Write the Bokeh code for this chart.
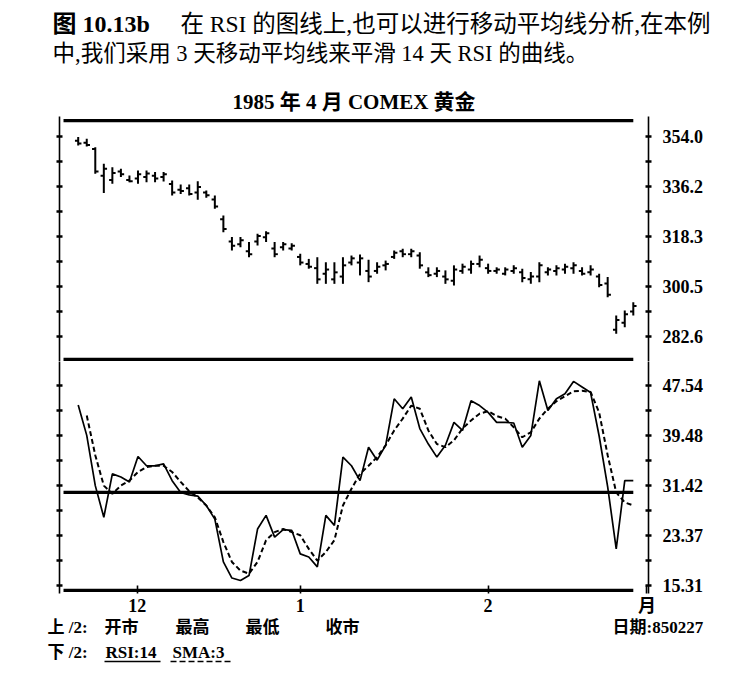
import numpy as np
from bokeh.plotting import figure
from bokeh.layouts import column
from bokeh.models import Range1d, LinearAxis, FixedTicker, Title
from bokeh.embed import file_html
from bokeh.resources import INLINE

# ---------------- data ----------------
price_high = [353.8, 353.2, 350.2, 344.3, 343.0, 342.5, 340.1, 341.9, 341.9, 341.3,
              341.3, 338.3, 336.9, 336.9, 338.0, 334.7, 332.9, 325.8, 318.1, 318.1,
              316.3, 319.3, 320.2, 316.3, 316.3, 315.9, 312.1, 310.3, 310.9, 309.1,
              309.1, 310.9, 311.5, 311.9, 310.0, 309.1, 309.7, 313.3, 313.9, 313.9,
              312.7, 307.3, 307.3, 306.2, 308.0, 308.6, 309.7, 311.5, 308.6, 307.3,
              307.3, 308.0, 306.8, 305.6, 309.1, 307.3, 308.0, 308.6, 309.1, 307.3,
              308.0, 305.0, 303.8, 290.1, 291.9, 294.8]
price_low = [350.8, 350.4, 340.7, 333.8, 337.1, 339.5, 337.7, 337.1, 337.7, 337.7,
             337.9, 332.9, 333.5, 332.9, 331.4, 332.1, 328.2, 319.8, 313.3, 314.5,
             310.9, 315.1, 316.3, 310.9, 313.3, 313.3, 308.0, 306.8, 301.4, 301.4,
             301.4, 301.4, 308.0, 304.4, 302.0, 305.0, 306.2, 310.3, 310.9, 310.9,
             306.8, 303.8, 303.8, 301.4, 300.8, 305.0, 305.0, 307.3, 305.0, 305.0,
             304.4, 305.0, 302.0, 301.4, 302.0, 304.4, 304.4, 305.0, 305.0, 304.4,
             304.4, 300.2, 296.6, 283.6, 285.9, 290.1]
price_open = [352.5, 351.8, 349.5, 340.0, 338.5, 341.5, 338.5, 339.0, 339.5, 340.0,
              339.5, 337.0, 335.0, 335.5, 334.0, 334.0, 331.5, 324.5, 316.5, 315.5,
              313.0, 316.5, 318.0, 314.0, 314.5, 314.0, 311.0, 308.5, 307.0, 305.0,
              303.0, 304.0, 309.0, 309.0, 306.0, 306.0, 308.0, 311.0, 313.0, 312.0,
              311.5, 305.5, 305.0, 304.0, 302.5, 306.0, 306.5, 308.5, 307.0, 306.0,
              305.0, 306.0, 305.5, 303.0, 304.0, 305.5, 306.0, 306.5, 307.0, 306.0,
              305.5, 304.0, 301.5, 285.0, 287.5, 291.5]
price_close = [351.5, 351.0, 341.5, 342.5, 341.0, 340.5, 338.0, 340.5, 340.8, 339.0,
               340.5, 334.0, 334.5, 333.5, 336.0, 333.0, 329.0, 321.0, 315.0, 317.0,
               312.0, 318.5, 319.5, 312.0, 315.5, 315.0, 309.0, 307.5, 303.0, 306.5,
               305.5, 308.0, 310.5, 310.5, 304.0, 307.5, 308.5, 312.5, 312.0, 313.0,
               308.0, 304.5, 306.0, 303.0, 306.5, 307.5, 308.5, 310.0, 306.0, 306.5,
               306.5, 307.0, 303.5, 304.0, 308.0, 306.5, 307.0, 307.5, 308.0, 305.0,
               306.5, 301.0, 297.5, 288.5, 290.5, 293.5]
rsi_14 = [44.4, 39.5, 31.4, 26.3, 33.3, 32.8, 32.0, 36.1, 34.6, 34.6,
          34.9, 32.2, 30.3, 29.9, 29.7, 28.2, 26.0, 19.1, 16.5, 16.1,
          16.9, 24.4, 26.6, 23.1, 24.3, 24.2, 20.4, 19.9, 18.3, 26.6,
          25.0, 36.0, 34.6, 32.2, 37.6, 35.5, 37.9, 45.4, 43.8, 45.7,
          40.6, 38.1, 36.0, 37.9, 41.6, 40.3, 45.1, 44.3, 43.2, 41.6,
          41.6, 41.5, 37.6, 39.5, 48.3, 43.5, 45.4, 46.2, 48.2, 47.3,
          46.4, 39.4, 31.2, 21.2, 32.2, 32.2]
sma_3 = [np.nan, 42.7, 36.3, 31.4, 30.1, 31.4, 32.2, 33.6, 34.4, 34.6,
         34.6, 33.6, 32.0, 30.5, 29.5, 28.2, 26.3, 22.3, 19.1, 17.7,
         17.2, 19.1, 22.6, 23.9, 24.4, 23.9, 23.4, 21.2, 19.3, 20.7,
         22.6, 28.2, 30.9, 33.3, 34.6, 36.0, 37.9, 40.3, 42.2, 44.3,
         43.8, 40.3, 38.1, 37.6, 38.7, 40.6, 41.9, 43.0, 43.4, 42.6,
         42.2, 40.8, 39.2, 40.0, 42.2, 43.8, 45.0, 45.8, 46.6, 46.7,
         46.5, 43.2, 36.3, 30.3, 28.7, 28.2]

price_ticks = [282.6, 300.5, 318.3, 336.2, 354.0]
price_tick_labels = ["282.6", "300.5", "318.3", "336.2", "354.0"]
rsi_ticks = [15.31, 23.37, 31.42, 39.48, 47.54]
rsi_tick_labels = ["15.31", "23.37", "31.42", "39.48", "47.54"]
month_ticks = [6.9, 26.0, 48.0, 66.6]
month_labels = ["12", "1", "2", "月"]
rsi_level = 30.3          # horizontal reference line in the RSI panel
price_top_rule = 359.7    # thick rule at top of price panel
price_sep_rule = 274.4    # thick rule separating the two panels
rsi_bottom_rule = 14.5    # thick rule at bottom of RSI panel

caption_1a = "图 10.13b"
caption_1b = "在 RSI 的图线上,也可以进行移动平均线分析,在本例"
caption_2 = "中,我们采用 3 天移动平均线来平滑 14 天 RSI 的曲线。"
chart_title = "1985 年 4 月 COMEX 黄金"
footer_row1 = ["上 /2:", "开市", "最高", "最低", "收市", "日期:850227"]
footer_row2 = ["下 /2:", "RSI:14", "SMA:3"]
legend_rsi_span = (3.08, 9.64)     # solid underline under "RSI:14"
legend_sma_span = (10.81, 18.07)   # dashed underline under "SMA:3"

# ---------------- layout / style ----------------
SERIF = "'Liberation Serif', 'Noto Sans CJK SC'"
LEFT, FRAME_W, RIGHT = 59, 589, 90
P1_H, P2_H = 245, 232
RULE_X0, RULE_X1 = -1.72, 65.0
TICK_HALF = 0.38
FOOT_X1 = [47, 104, 175, 245, 325, 612]   # page x of footer row 1 items
FOOT_X2 = [47, 105, 172]                  # page x of footer row 2 items

x = np.arange(len(price_high))
xr = Range1d(-2.19, 66.78)


def box_h(size):
    # height Bokeh gives a one-line text box (Liberation Serif metrics)
    return 1.107 * size


def minor_of(ticks):
    step = ticks[1] - ticks[0]
    return [ticks[0] - step / 2] + [t + step / 2 for t in ticks]


def style_vaxis(ax, ticks, labels=None):
    ax.ticker = FixedTicker(ticks=ticks, minor_ticks=minor_of(ticks))
    ax.axis_line_width = 1.6
    ax.axis_line_color = "black"
    ax.major_tick_in = 3
    ax.major_tick_out = 3
    ax.major_tick_line_width = 2.6
    ax.minor_tick_in = 3
    ax.minor_tick_out = 3
    ax.minor_tick_line_width = 2.6
    if labels is None:
        ax.major_label_text_color = None
        ax.major_label_standoff = 0
    else:
        ax.major_label_overrides = dict(zip(ticks, labels))
        ax.major_label_text_font = SERIF
        ax.major_label_text_font_style = "bold"
        ax.major_label_text_font_size = "18px"
        ax.major_label_text_color = "black"
        ax.major_label_standoff = 11


def make_fig(h, yr, xrange=xr, y_axis="right", top=0, bottom=0):
    p = figure(frame_width=FRAME_W, frame_height=h, x_range=xrange, y_range=yr,
               output_backend="svg", toolbar_location=None,
               x_axis_location=None, y_axis_location=y_axis,
               min_border_left=LEFT, min_border_right=RIGHT,
               min_border_top=top, min_border_bottom=bottom)
    p.outline_line_color = None
    p.background_fill_color = "white"
    p.border_fill_color = "white"
    p.grid.visible = False
    return p


def title(text, size, offset=0, standoff=0.0, bold=False, align="left"):
    return Title(text=text, text_font=SERIF, text_font_size=f"{size}px",
                 text_font_style="bold" if bold else "normal", text_color="black",
                 align=align, offset=offset, standoff=standoff)


def flat_title(text, size, offset, bold=False):
    # a title that takes no height, so that several share one text row
    return title(text, size, offset=offset, standoff=-(2 + box_h(size)), bold=bold)


# ---- header figure: the two caption lines ----
p0 = make_fig(22, Range1d(0, 1), xrange=Range1d(0, 1), y_axis=None, bottom=60)
p0.add_layout(flat_title(caption_1b, 23.5, 180 - LEFT), "below")
p0.add_layout(flat_title(caption_1a, 24, 52 - LEFT, bold=True), "below")
p0.add_layout(title(caption_2, 22.5, offset=52 - LEFT, standoff=32.9), "below")

# ---- price panel ----
p1 = make_fig(P1_H, Range1d(273.67, 361.14), top=34)
p1.add_layout(title(chart_title, 21, standoff=6, bold=True, align="center"), "above")
style_vaxis(p1.yaxis[0], price_ticks, price_tick_labels)
lax1 = LinearAxis()
style_vaxis(lax1, price_ticks)
p1.add_layout(lax1, "left")
p1.segment(x0=[RULE_X0, RULE_X0], x1=[RULE_X1, RULE_X1],
           y0=[price_top_rule, price_sep_rule], y1=[price_top_rule, price_sep_rule],
           line_color="black", line_width=3.2)
p1.segment(x0=x, x1=x, y0=price_low, y1=price_high, line_color="black", line_width=2)
p1.segment(x0=x - TICK_HALF, x1=x, y0=price_open, y1=price_open,
           line_color="black", line_width=2)
p1.segment(x0=x, x1=x + TICK_HALF, y0=price_close, y1=price_close,
           line_color="black", line_width=2)

# ---- RSI panel with month axis ----
p2 = make_fig(P2_H, Range1d(14.01, 51.41))
style_vaxis(p2.yaxis[0], rsi_ticks, rsi_tick_labels)
lax2 = LinearAxis()
style_vaxis(lax2, rsi_ticks)
p2.add_layout(lax2, "left")
xax = LinearAxis(ticker=FixedTicker(ticks=month_ticks, minor_ticks=[]))
xax.major_label_overrides = dict(zip(month_ticks, month_labels))
xax.axis_line_color = None
xax.major_tick_in = 8
xax.major_tick_out = 0
xax.major_tick_line_width = 1.6
xax.minor_tick_line_color = None
xax.major_label_standoff = 2
xax.major_label_text_font = SERIF
xax.major_label_text_font_style = "bold"
xax.major_label_text_font_size = "18px"
xax.major_label_text_color = "black"
p2.add_layout(xax, "below")
p2.segment(x0=[RULE_X0, RULE_X0], x1=[RULE_X1, RULE_X1],
           y0=[rsi_level, rsi_bottom_rule], y1=[rsi_level, rsi_bottom_rule],
           line_color="black", line_width=3.2)
p2.line(x, sma_3, line_color="black", line_width=2, line_dash="5 3")
p2.line(x, rsi_14, line_color="black", line_width=1.7)

# ---- legend row 1 (hangs below a thin empty frame) ----
p3 = make_fig(8, Range1d(0, 1), y_axis=None, bottom=15)
for fx, t in zip(FOOT_X1, footer_row1):
    p3.add_layout(flat_title(t, 17, fx - LEFT, bold=True), "below")

# ---- legend row 2 with its line samples (solid = RSI, dashed = SMA) ----
p4 = make_fig(14, Range1d(0, 14), y_axis=None, top=10)
for fx, t in zip(FOOT_X2, footer_row2):
    p4.add_layout(flat_title(t, 17, fx - LEFT, bold=True), "above")
p4.segment(x0=[legend_rsi_span[0]], x1=[legend_rsi_span[1]], y0=[4], y1=[4],
           line_color="black", line_width=1.5)
p4.segment(x0=[legend_sma_span[0]], x1=[legend_sma_span[1]], y0=[4], y1=[4],
           line_color="black", line_width=1.5, line_dash="6 3")

layout = column(p0, p1, p2, p3, p4, spacing=0)
open("out.html", "w").write(file_html(layout, INLINE))
